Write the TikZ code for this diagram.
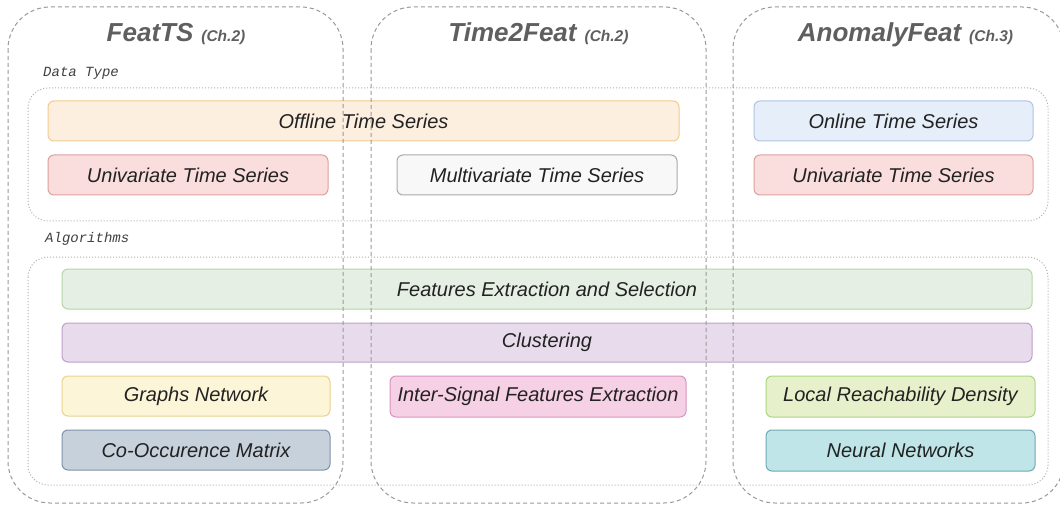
\documentclass[tikz,border=0pt]{standalone}
\usepackage{fontspec}
\setmainfont{Liberation Sans}
\newfontfamily\labelmono{Liberation Mono}
\definecolor{titlegray}{HTML}{5F5F5F}
\definecolor{txt}{HTML}{222222}
\definecolor{colline}{HTML}{9A9A9A}
\definecolor{grpline}{HTML}{B0B0B0}
\definecolor{orF}{HTML}{FDEFDF}\definecolor{orD}{HTML}{F2CB8E}
\definecolor{blF}{HTML}{E6EEF9}\definecolor{blD}{HTML}{AFC3E2}
\definecolor{rdF}{HTML}{FADEDD}\definecolor{rdD}{HTML}{DDA09B}
\definecolor{gyF}{HTML}{F8F8F8}\definecolor{gyD}{HTML}{AAAAAA}
\definecolor{grF}{HTML}{E5EFE3}\definecolor{grD}{HTML}{B7D6A8}
\definecolor{puF}{HTML}{E8DCEC}\definecolor{puD}{HTML}{BCA0C9}
\definecolor{yeF}{HTML}{FDF5D8}\definecolor{yeD}{HTML}{E9D28F}
\definecolor{slF}{HTML}{C7D1DC}\definecolor{slD}{HTML}{7E93A8}
\definecolor{piF}{HTML}{F6D0E4}\definecolor{piD}{HTML}{D894C2}
\definecolor{liF}{HTML}{E6F0CB}\definecolor{liD}{HTML}{ACD67E}
\definecolor{teF}{HTML}{BFE5E8}\definecolor{teD}{HTML}{6FA9B2}
\tikzset{
  boxbase/.style={rounded corners=6pt, line width=1pt, inner sep=0pt,
    font=\fontsize{20}{23}\selectfont\itshape, text=txt},
  pill/.style 2 args={boxbase, fill=#1, draw=#2},
  colframe/.style={draw=colline, dash pattern=on 4pt off 3pt, line width=1pt, rounded corners=42pt},
  grpframe/.style={draw=grpline, dash pattern=on 1pt off 2pt, line width=1pt, rounded corners=20pt},
  coltitle/.style={anchor=base, text=titlegray, font=\fontsize{26}{28}\selectfont\bfseries\itshape},
  grplabel/.style={anchor=base west, text=black!75, font=\fontsize{14}{16}\selectfont\labelmono\itshape, inner sep=0pt},
}
\newcommand{\chref}[1]{\hspace{8pt}{\fontsize{15.5}{16}\selectfont(#1)}}
\begin{document}
\begin{tikzpicture}[x=1pt, y=-1pt]
\useasboundingbox (0,0) rectangle (1060,505);
\fill[white] (0,0) rectangle (1060,505);

% group frames
\draw[grpframe] (28,88) rectangle (1048,221);
\draw[grpframe] (28,257) rectangle (1048,485);
\node[grplabel] (dtlabel) at (43,77) {Data Type};
\node[grplabel] (allabel) at (45,242) {Algorithms};

% data type boxes
\node[pill={orF}{orD}, minimum width=631pt, minimum height=40pt] (offline) at (363.5,121) {Offline Time Series};
\node[pill={blF}{blD}, minimum width=279pt, minimum height=40pt] (online) at (893.5,121) {Online Time Series};
\node[pill={rdF}{rdD}, minimum width=280pt, minimum height=40pt] (univL) at (188,175) {Univariate Time Series};
\node[pill={gyF}{gyD}, minimum width=280pt, minimum height=40pt] (multi) at (537,175) {Multivariate Time Series};
\node[pill={rdF}{rdD}, minimum width=279pt, minimum height=40pt] (univR) at (893.5,175) {Univariate Time Series};

% algorithm boxes
\node[pill={grF}{grD}, minimum width=970pt, minimum height=40pt] (fes) at (547,289) {Features Extraction and Selection};
\node[pill={puF}{puD}, minimum width=970pt, minimum height=39pt] (clust) at (547,342.5) {Clustering};
\node[pill={yeF}{yeD}, minimum width=268pt, minimum height=40pt] (graphs) at (196,396) {Graphs Network};
\node[pill={slF}{slD}, minimum width=268pt, minimum height=40pt] (cooc) at (196,450) {Co-Occurence Matrix};
\node[pill={piF}{piD}, minimum width=296pt, minimum height=41pt] (inter) at (538,396.5) {Inter-Signal Features Extraction};
\node[pill={liF}{liD}, minimum width=269pt, minimum height=41pt] (lrd) at (900.5,396.5) {Local Reachability Density};
\node[pill={teF}{teD}, minimum width=269pt, minimum height=41pt] (nn) at (900.5,450.5) {Neural Networks};

% method columns, drawn over the boxes
\draw[colframe] (8,7) rectangle (343,503);
\draw[colframe] (371,7) rectangle (706,503);
\draw[colframe] (733,7) rectangle (1064,503);
\node[coltitle] (tfeatts) at (176,42) {FeatTS\chref{Ch.2}};
\node[coltitle] (ttime) at (538.5,42) {Time2Feat\chref{Ch.2}};
\node[coltitle] (tanom) at (905.5,42) {AnomalyFeat\chref{Ch.3}};
\end{tikzpicture}
\end{document}
